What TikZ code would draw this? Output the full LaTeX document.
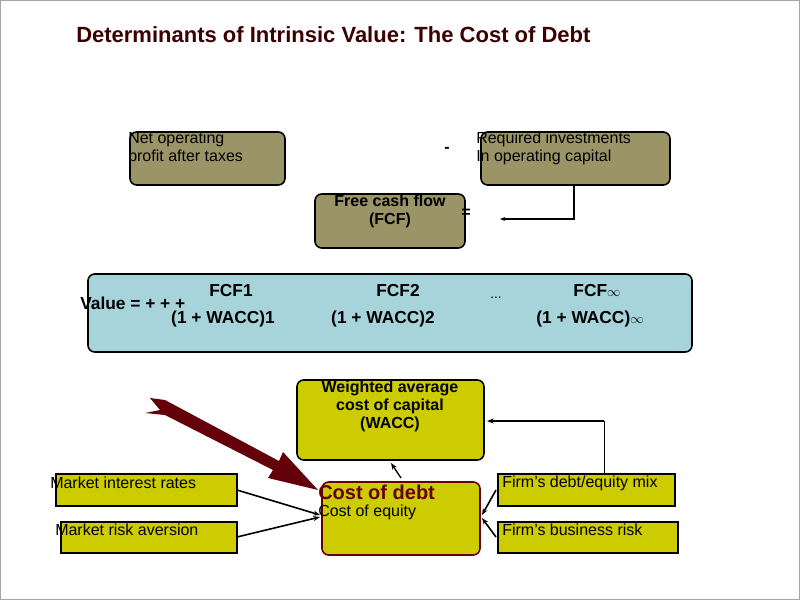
\documentclass[tikz,border=0pt]{standalone}
\usepackage{fontspec}
\setmainfont{Liberation Sans}
\usetikzlibrary{arrows.meta}
\definecolor{olivebox}{RGB}{154,148,102}
\definecolor{bluebox}{RGB}{166,212,218}
\definecolor{yelbox}{RGB}{204,204,0}
\definecolor{darkred}{RGB}{100,0,10}
\definecolor{titlecol}{RGB}{60,0,0}
\tikzset{
 box/.style={draw=black,line width=1.2pt,rounded corners=5pt},
 lab/.style={font=\fontsize{12pt}{13.5pt}\selectfont,inner sep=0pt,align=left},
 bold/.style={font=\bfseries\fontsize{12pt}{13.5pt}\selectfont,inner sep=0pt,align=center},
 big/.style={font=\bfseries\fontsize{13pt}{15pt}\selectfont,inner sep=0pt,align=center},
 conn/.style={line width=1.2pt,-{Stealth[length=5pt]}},
}
\begin{document}
\begin{tikzpicture}[x=0.75pt,y=-0.75pt]
\useasboundingbox (0,0) rectangle (800,600);
\fill[white] (0,0) rectangle (800,600);
\draw[gray!70] (0.5,0.5) rectangle (799.5,599.5);
\node[anchor=west,inner sep=0pt,font=\bfseries\fontsize{16.5pt}{18pt}\selectfont,text=titlecol] (title) at (76,35) {Determinants of Intrinsic Value: The Cost of Debt};
% top
\draw[box,fill=olivebox] (130,132) rectangle (285,185);
\node[lab,anchor=north west] (nopat) at (128,132) {Net operating\\profit after taxes};
\draw[box,fill=olivebox] (481,132) rectangle (670,185);
\node[lab,anchor=north west] (req) at (476,132) {Required investments\\In operating capital};
\node[bold] (minus) at (447,150) {-};
\draw[box,fill=olivebox] (315,194) rectangle (465,248);
\node[bold,anchor=north] (fcf) at (390,195) {Free cash flow\\(FCF)};
\node[bold] (eq) at (466,213) {=};
\coordinate (rq) at (574,185);
\coordinate (rq2) at (574,219);
\coordinate (rq3) at (500,219);
\draw[line width=1pt,-{Stealth[length=4pt]}] (rq) -- (rq2) -- (rq3);
% value
\draw[box,fill=bluebox] (88,274) rectangle (692,352);
\node[big,anchor=west] (val) at (80,303) {Value = + + +};
\node[big] (f1) at (231,291) {FCF1};
\node[big] (d1) at (223,319) {(1 + WACC)1};
\node[big] (f2) at (398,291) {FCF2};
\node[big] (d2) at (383,319) {(1 + WACC)2};
\node[bold,font=\fontsize{10pt}{10pt}\selectfont] (dots) at (496,298) {...};
\node[big] (f3) at (597,291) {FCF{\fontsize{10pt}{10pt}\selectfont$\infty$}};
\node[big] (d3) at (590,319) {(1 + WACC){\fontsize{10pt}{10pt}\selectfont$\infty$}};
% lower
\draw[box,fill=yelbox] (297,380) rectangle (484,460);
\node[bold,anchor=north] (wacc) at (390,381) {Weighted average\\cost of capital\\(WACC)};
\draw[box,draw=darkred,fill=yelbox] (322,482) rectangle (480,555);
\node[inner sep=0pt,anchor=west,font=\bfseries\fontsize{15pt}{17pt}\selectfont,text=darkred] (cod) at (318,492) {Cost of debt};
\node[lab,anchor=west] (coe) at (318,512) {Cost of equity};
\draw[line width=1pt,fill=yelbox] (56,474) rectangle (237,506);
\node[lab,anchor=west] (mir) at (50,483) {Market interest rates};
\draw[line width=1pt,fill=yelbox] (61,522) rectangle (237,553);
\node[lab,anchor=west] (mra) at (55,530) {Market risk aversion};
\draw[line width=1pt,fill=yelbox] (498,474) rectangle (675,506);
\node[lab,anchor=west] (fde) at (502,483) {Firm’s debt/equity mix};
\draw[line width=1pt,fill=yelbox] (498,522) rectangle (678,553);
\node[lab,anchor=west] (fbr) at (502,530) {Firm’s business risk};
% connectors
\coordinate (a1) at (237,490); \coordinate (a2) at (237,537);
\coordinate (t1) at (320,515); \coordinate (t2) at (320,517);
\draw[conn] (a1) -- (t1);
\draw[conn] (a2) -- (t2);
\coordinate (b1) at (496,490); \coordinate (b2) at (496,537);
\coordinate (u1) at (482,515); \coordinate (u2) at (482,518);
\draw[conn] (b1) -- (u1);
\draw[conn] (b2) -- (u2);
\coordinate (c1) at (401,478); \coordinate (c2) at (391,463);
\draw[line width=1pt,-{Stealth[length=5pt]}] (c1) -- (c2);
\coordinate (e1) at (604,474); \coordinate (e2) at (604,421); \coordinate (e3) at (487,421);
\draw[line width=0.6pt] (e1) -- (e2);
\draw[line width=1.3pt,-{Stealth[length=5pt]}] (e2) -- (e3);
% big arrow (notched tail)
\fill[darkred] (145,413) -- (165,415) -- (273,470) -- (268,478) -- (318,490) -- (283,452) -- (279,461) -- (165,400) -- (150,398) -- (160,410) -- cycle;
\end{tikzpicture}
\end{document}
